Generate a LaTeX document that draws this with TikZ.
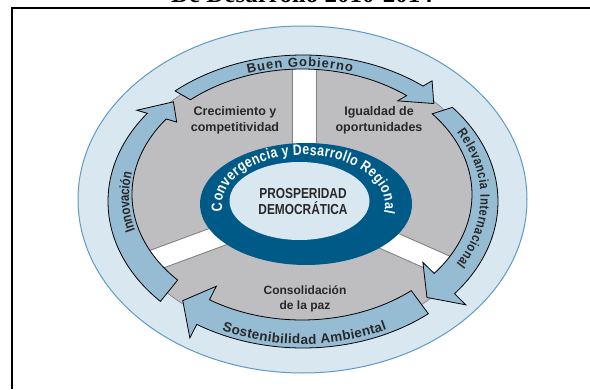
\documentclass[tikz,border=0pt]{standalone}
\usepackage{fontspec}
\setmainfont{Liberation Sans}
\newfontfamily\titlefont{Liberation Serif}
\newfontfamily\condfont[FakeStretch=0.82]{Liberation Sans}
\usetikzlibrary{decorations.text}
\definecolor{outerfill}{RGB}{216,231,240}
\definecolor{outerline}{RGB}{95,155,195}
\definecolor{arrowfill}{RGB}{150,188,212}
\definecolor{sectorgray}{RGB}{190,190,193}
\definecolor{ringblue}{RGB}{0,90,135}
\definecolor{labeltext}{RGB}{40,40,40}
\newcommand{\drawbandarrow}[3]{%
  \draw[bandarrow] plot[domain=#1:#2,samples=60] ({bx(\x,0)},{by(\x,0)})
    -- ({bx(#2,-0.55)},{by(#2,-0.55)})
    -- ({bx(#3,0.5)},{by(#3,0.5)})
    -- ({bx(#2,1.55)},{by(#2,1.55)})
    -- plot[domain=#2:#1,samples=60] ({bx(\x,1)},{by(\x,1)}) -- cycle;}
\begin{document}
\begin{tikzpicture}[x=1pt,y=1pt,
  declare function={bx(\t,\f)=302+\f+(170+25*\f)*cos(\t); by(\t,\f)=194.5-7*\f+(125.5+21*\f)*sin(\t);},
  bandarrow/.style={fill=arrowfill,draw=black,line width=0.8pt,line join=miter,miter limit=10},
  sectorlabel/.style={font=\bfseries\fontsize{12.5}{16}\selectfont,text=labeltext,align=center,inner sep=0pt},
  centerlabel/.style={font=\condfont\bfseries\fontsize{14.5}{16}\selectfont,text=labeltext,align=center,inner sep=0pt},
  spokeedge/.style={draw=black!50,line width=#1},
  spokefill/.style={draw=white,line width=#1}]
\useasboundingbox (0,0) rectangle (590,389);
\clip (0,0) rectangle (590,389);
% title (cut off at top) and frame
\node[font=\titlefont\bfseries\fontsize{25}{25}\selectfont,anchor=base,inner sep=0pt] (title) at (302,386.3) {De Desarrollo 2010-2014};
\draw[line width=2pt] (11.5,0) -- (11.5,381.3) -- (590,381.3);
% outer light ellipse
\filldraw[fill=outerfill,draw=outerline,line width=1pt] (302.5,189.5) ellipse[x radius=224.5,y radius=173.5];
% gray sectors
\filldraw[fill=sectorgray,draw=black!50,line width=0.6pt] (302.6,190.3) ellipse[x radius=185,y radius=138.1];
\begin{scope}
  \clip (302.6,190.3) ellipse[x radius=185,y radius=138.1];
  \draw[spokeedge=25pt] (304,185) -- (304,340);
  \draw[spokeedge=22pt] (306,185) -- (71.5,98.3);
  \draw[spokeedge=22pt] (306,185) -- (534.6,83.7);
  \draw[spokefill=23pt] (304,185) -- (304,340);
  \draw[spokefill=20pt] (306,185) -- (71.5,98.3);
  \draw[spokefill=20pt] (306,185) -- (534.6,83.7);
\end{scope}
% central ring
\fill[ringblue] (306,185) ellipse[x radius=106,y radius=61];
\fill[outerfill] (299.5,188) ellipse[x radius=70,y radius=39];
% labels
\node[centerlabel] (pd) at (303,187) {PROSPERIDAD\\DEMOCRÁTICA};
\node[sectorlabel] (crec) at (235,269) {Crecimiento y\\competitividad};
\node[sectorlabel] (igual) at (379,269) {Igualdad de\\oportunidades};
\node[sectorlabel,font=\bfseries\fontsize{12}{15}\selectfont] (paz) at (305,90.5) {Consolidación\\de la paz};
% curved arrows (clockwise)
\drawbandarrow{223}{143}{135}
\drawbandarrow{131}{52}{44}
\drawbandarrow{40}{-39}{-47}
\drawbandarrow{-50}{-123}{-131}
% arrow texts
\path[decorate,decoration={text along path,text align={fit to path},
  text={|\bfseries\fontsize{13}{14}\selectfont\color{labeltext}|Buen Gobierno}}]
  ({bx(108.2,0.15)},{by(108.2,0.15)}) arc[start angle=108.2,end angle=73.3,x radius=173.75,y radius=128.65];
\path[decorate,decoration={text along path,text align={fit to path},raise=-4.5pt,
  text={|\condfont\bfseries\fontsize{13.5}{14}\selectfont\color{labeltext}|Relevancia Internacional}}]
  ({bx(30,0.5)},{by(30,0.5)}) arc[start angle=30,end angle=-30.5,x radius=182.5,y radius=136];
\path[decorate,decoration={text along path,text align={fit to path},
  text={|\bfseries\fontsize{13.5}{14}\selectfont\color{labeltext}|Sostenibilidad Ambiental}}]
  ({bx(-115,0.86)},{by(-115,0.86)}) arc[start angle=-115,end angle=-64,x radius=191.5,y radius=143.56];
\path[decorate,decoration={text along path,text align={fit to path},raise=-5pt,
  text={|\condfont\bfseries\fontsize{14}{14}\selectfont\color{labeltext}|Innovación}}]
  ({bx(195.4,0.33)},{by(195.4,0.33)}) arc[start angle=195.4,end angle=169.2,x radius=178.25,y radius=132.43];
% ring text
\path[decorate,decoration={text along path,text align={fit to path},
  text={|\condfont\bfseries\fontsize{15}{16}\selectfont\color{white}|Convergencia y Desarrollo Regional}}]
  (222.6,177.9) arc[start angle=187,end angle=-9,x radius=81.5,y radius=50];
\end{tikzpicture}
\end{document}
